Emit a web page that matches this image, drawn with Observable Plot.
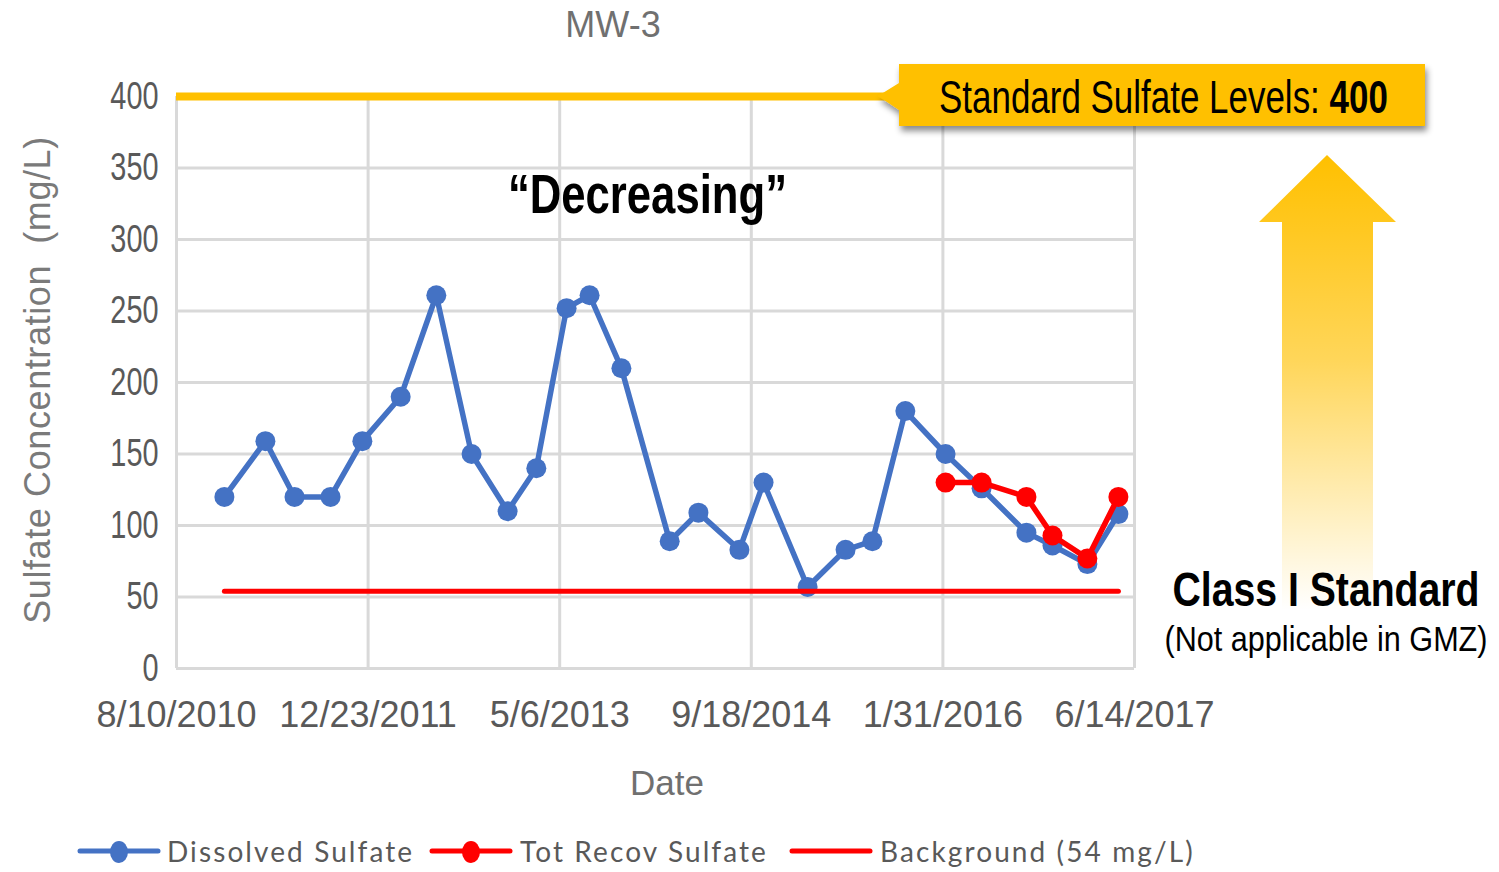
<!DOCTYPE html>
<html><head><meta charset="utf-8">
<script src="https://cdn.jsdelivr.net/npm/d3@7"></script>
<script src="https://cdn.jsdelivr.net/npm/@observablehq/plot@0.6"></script>
<style>
body{margin:0;background:#fff;}
#chart svg{display:block;}
g[aria-label="y-axis tick label"]{font-family:"Liberation Sans",Arial,sans-serif;font-size:38px;fill:#595959;}
g[aria-label="x-axis tick label"]{font-family:"Liberation Sans",Arial,sans-serif;font-size:36px;fill:#595959;}
</style></head>
<body><div id="chart"></div>
<script>
// ---- data ----
const sampleDates = ["2010-12-13","2011-03-30","2011-06-14","2011-09-16","2011-12-08","2012-03-17","2012-06-18","2012-09-18","2012-12-21","2013-03-06","2013-05-24","2013-07-23","2013-10-14","2014-02-17","2014-05-03","2014-08-18","2014-10-20","2015-02-12","2015-05-22","2015-07-31","2015-10-25","2016-02-07","2016-05-11","2016-09-05","2016-11-12","2017-02-11","2017-05-03"];
const dissolvedSulfate = [120,159,120,120,159,190,261,150,110,140,252,261,210,89,109,83,130,57,83,89,180,150,126,95,86,73,108];
const totRecovDates = ["2016-02-07","2016-05-11","2016-09-05","2016-11-12","2017-02-11","2017-05-03"];
const totRecovSulfate = [130,130,120,93,77,120];
const backgroundLevel = 54;
const backgroundDates = ["2010-12-13","2017-05-03"];
const standardLevel = 400;
const yTicks = [0,50,100,150,200,250,300,350,400];
const xTickDates = ["2010-08-10","2011-12-23","2013-05-06","2014-09-18","2016-01-31","2017-06-14"];
const seriesNames = ["Dissolved Sulfate","Tot Recov Sulfate","Background (54 mg/L)"];
const seriesColors = ["#4472C4","#FF0000","#FF0000"];
const decreasingNote = {date:"2013-12-21", value:331, text:"“Decreasing”"};

// ---- build tables ----
const parse = d3.utcParse("%Y-%m-%d");
const dissolved = sampleDates.map((d,i)=>({date:parse(d), value:dissolvedSulfate[i]}));
const totRecov = totRecovDates.map((d,i)=>({date:parse(d), value:totRecovSulfate[i]}));
const background = backgroundDates.map(d=>({date:parse(d), value:backgroundLevel}));
const xTicks = xTickDates.map(parse);
const fmt = d3.utcFormat("%-m/%-d/%Y");
const sans = "'Liberation Sans', Arial, sans-serif";

const plot = Plot.plot({
  width:1499, height:872,
  marginTop:96, marginBottom:204, marginLeft:176, marginRight:365,
  style:{background:"#fff", overflow:"visible"},
  x:{type:"utc", domain:[xTicks[0], xTicks[xTicks.length-1]]},
  y:{domain:[0,400]},
  marks:[
    Plot.gridY(yTicks,{stroke:"#d9d9d9",strokeOpacity:1,strokeWidth:3}),
    Plot.gridX(xTicks,{stroke:"#d9d9d9",strokeOpacity:1,strokeWidth:3}),
    Plot.axisY(yTicks,{tickSize:0,tickPadding:18,label:null}),
    Plot.axisX(xTicks,{tickSize:0,tickPadding:33,label:null,tickFormat:fmt}),
    Plot.ruleY([standardLevel],{stroke:"#FFC000",strokeWidth:8,ariaLabel:"standard"}),
    Plot.line(dissolved,{x:"date",y:"value",stroke:seriesColors[0],strokeWidth:5.5}),
    Plot.dot(dissolved,{x:"date",y:"value",r:10,fill:seriesColors[0]}),
    Plot.line(totRecov,{x:"date",y:"value",stroke:seriesColors[1],strokeWidth:5.5}),
    Plot.dot(totRecov,{x:"date",y:"value",r:10,fill:seriesColors[1]}),
    Plot.line(background,{x:"date",y:"value",stroke:seriesColors[2],strokeWidth:5,strokeLinecap:"round"}),
    Plot.text([decreasingNote],{x:d=>parse(d.date),y:"value",text:"text",fontSize:56,fontWeight:"bold",fill:"#000",fontFamily:sans})
  ]
});
document.getElementById("chart").appendChild(plot);

const svg = d3.select(plot);
const X = plot.scale("x"), Y = plot.scale("y");

// condense helper (no narrow font installed): append a horizontal scale to each text's own transform
function condense(sel, s){
  sel.each(function(){
    const t = this.getAttribute("transform")||"";
    this.setAttribute("transform",`${t} scale(${s},1)`);
  });
}
condense(svg.selectAll('g[aria-label="y-axis tick label"] text'),0.76);
condense(svg.selectAll('text').filter(function(){ return this.textContent === decreasingNote.text; }),0.78);

const defs = svg.append("defs");
const sh = defs.append("filter").attr("id","shadow").attr("x","-10%").attr("y","-50%").attr("width","130%").attr("height","250%");
sh.append("feDropShadow").attr("dx",2).attr("dy",5).attr("stdDeviation",3).attr("flood-color","#000").attr("flood-opacity",0.45);
svg.select('g[aria-label="standard"]').attr("filter","url(#shadow)");

const grad = defs.append("linearGradient").attr("id","arrowGrad").attr("x1",0).attr("y1",0).attr("x2",0).attr("y2",1);
grad.append("stop").attr("offset","0%").attr("stop-color","#FFC000").attr("stop-opacity",1);
grad.append("stop").attr("offset","45%").attr("stop-color","#FFC000").attr("stop-opacity",0.65);
grad.append("stop").attr("offset","100%").attr("stop-color","#FFC000").attr("stop-opacity",0);

function addText(x,y,s,opts,str){
  const t = svg.append("text").attr("transform",`translate(${x},${y}) scale(${s},1)`)
    .attr("text-anchor",opts.anchor||"start").attr("font-family",opts.family||sans)
    .attr("font-size",opts.size).attr("font-weight",opts.weight||"normal").attr("fill",opts.fill||"#000");
  if(opts.spacing) t.attr("letter-spacing",opts.spacing);
  if(str!=null) t.text(str);
  return t;
}

// callout
const yStd = Y.apply(standardLevel);
const callout = svg.append("g").attr("filter","url(#shadow)");
callout.append("path").attr("fill","#FFC000")
  .attr("d",`M899,${yStd-32}H1425V${yStd+30}H899V${yStd+14}L878,${yStd}L899,${yStd-13}Z`);
const ct = addText(939,yStd+17,0.76,{size:46});
ct.append("tspan").text("Standard Sulfate Levels: ");
ct.append("tspan").attr("font-weight","bold").text(standardLevel);

// arrow
svg.append("path").attr("fill","url(#arrowGrad)")
  .attr("d","M1327,155L1396,222H1373V610H1282V222H1259Z");
addText(1326,606,0.80,{anchor:"middle",size:49,weight:"bold"},"Class I Standard");
addText(1326,651,0.85,{anchor:"middle",size:36},"(Not applicable in GMZ)");

// titles
addText(613,37,1,{anchor:"middle",size:36,fill:"#707070"},"MW-3");
addText(667,795,1,{anchor:"middle",size:35,fill:"#707070"},"Date");
svg.append("text").attr("transform","translate(50,380) rotate(-90)").attr("text-anchor","middle")
  .attr("font-family",sans).attr("font-size",36).attr("fill","#7a7a7a").attr("letter-spacing",0.6)
  .style("white-space","pre").text("Sulfate Concentration  (mg/L)");

// legend
const legendX = [80,432,792];
const legendTextX = [167,520,880];
seriesNames.forEach((name,i)=>{
  const g = svg.append("g");
  g.append("line").attr("x1",legendX[i]).attr("x2",legendX[i]+78).attr("y1",851).attr("y2",851).attr("stroke",seriesColors[i]).attr("stroke-width",5).attr("stroke-linecap","round");
  if(i<2) g.append("ellipse").attr("cx",legendX[i]+39).attr("cy",852).attr("rx",9).attr("ry",11).attr("fill",seriesColors[i]);
  addText(legendTextX[i],862,1,{size:28,family:"Lato, 'Open Sans', sans-serif",fill:"#595959",spacing:2.1},name);
});
</script>
</body></html>
